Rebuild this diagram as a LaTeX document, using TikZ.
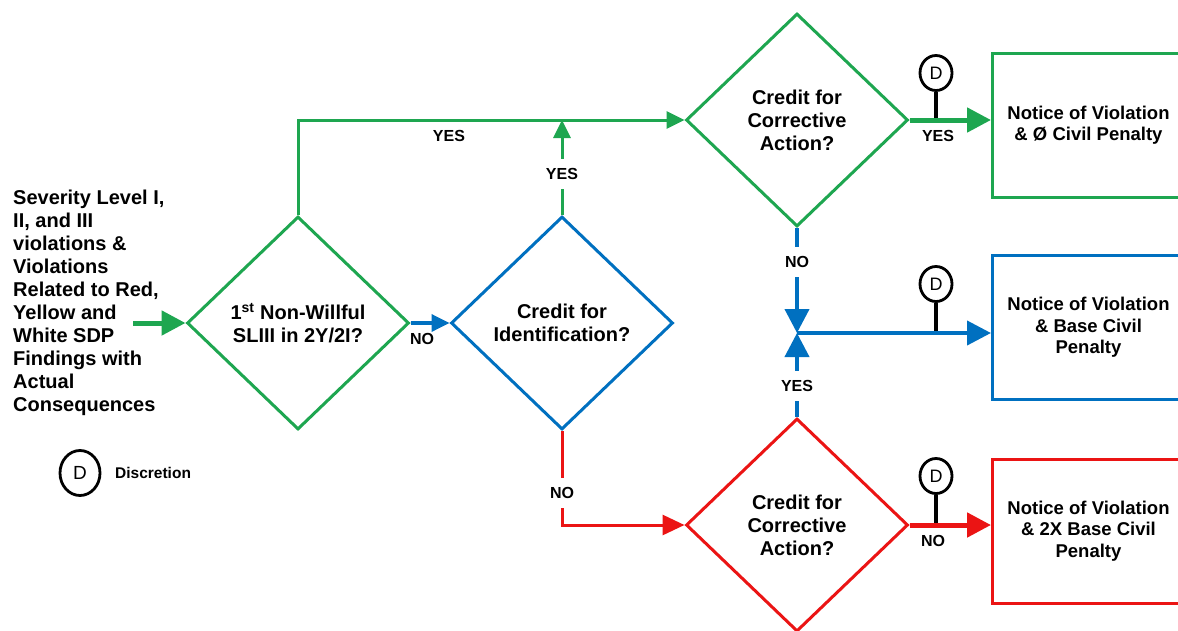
\documentclass[tikz,border=0pt]{standalone}
\usepackage{fontspec}
\setmainfont{Liberation Sans}
\usetikzlibrary{shapes.geometric,arrows.meta}
\definecolor{cgreen}{RGB}{30,166,80}
\definecolor{cblue}{RGB}{0,112,192}
\definecolor{cred}{RGB}{235,20,20}
\begin{document}
\begin{tikzpicture}[x=1pt,y=-1pt,
  dia/.style={diamond, draw, line width=3pt, minimum width=222pt, minimum height=213pt, inner sep=0pt, align=center, font=\fontsize{20}{23}\selectfont\bfseries},
  box/.style={rectangle, draw, line width=3pt, minimum width=192pt, minimum height=144pt, anchor=west, align=center, inner sep=0pt, font=\fontsize{18.5}{21.5}\selectfont\bfseries},
  lab/.style={font=\fontsize{16}{16}\selectfont\bfseries, inner sep=2pt},
  gap/.style={lab, fill=white, inner ysep=9pt},
  dmark/.style={ellipse, draw, line width=2.8pt, minimum width=32pt, minimum height=35pt, inner sep=0pt, font=\fontsize{18}{18}\selectfont},
  stem/.style={line width=3.2pt, black},
  bigtip/.style={-{Triangle[length=24pt,width=24pt]}},
  smalltip/.style={-{Triangle[length=18pt,width=17pt]}}
]
\useasboundingbox (0,0) rectangle (1178,630);
\clip (0,0) rectangle (1178,630);
\fill[white] (0,0) rectangle (1178,630);

% source text
\node[anchor=north west, align=left, inner sep=0pt, font=\fontsize{20}{23}\selectfont\bfseries] (src) at (13,190)
  {Severity Level I,\\ II, and III\\ violations \&\\ Violations\\ Related to Red,\\ Yellow and\\ White SDP\\ Findings with\\ Actual\\ Consequences};
\coordinate (in0) at (133,323);

% diamonds
\node[dia, cgreen, text=black] (d1) at (298,323) {1\textsuperscript{st} Non-Willful\\ SLIII in 2Y/2I?};
\node[dia, cblue, text=black] (d2) at (562,323) {Credit for\\ Identification?};
\node[dia, cgreen, text=black] (d3) at (797,120) {Credit for\\ Corrective\\ Action?};
\node[dia, cred, text=black] (d4) at (797,525) {Credit for\\ Corrective\\ Action?};

% boxes
\node[box, cgreen, text=black] (b1) at (991,125) {Notice of Violation\\ \& Ø Civil Penalty};
\node[box, cblue, text=black] (b2) at (991,327.5) {Notice of Violation\\ \& Base Civil\\ Penalty};
\node[box, cred, text=black] (b3) at (991,531) {Notice of Violation\\ \& 2X Base Civil\\ Penalty};

% D markers
\node[dmark] (m1) at (936,73) {D};
\node[dmark] (m2) at (936,284) {D};
\node[dmark] (m3) at (936,476) {D};
\draw[stem] (m1.south) -- (m1.south |- d3.east);
\draw[stem] (m2.south) -- ++(0,32);
\draw[stem] (m3.south) -- (m3.south |- d4.east);

% connectors
\draw[cgreen, line width=5pt, bigtip] (in0) -- (d1.west);
\draw[cgreen, line width=3pt, smalltip] (d1.north) -- (d1.north |- d3.west) -- (d3.west);
\node[lab] (y1) at (449,136) {YES};
\draw[cblue, line width=3.5pt, smalltip] (d1.east) -- (d2.west);
\node[lab] (n1) at (422,339) {NO};
\draw[cgreen, line width=3pt, smalltip] (d2.north) -- (d2.north |- d3.west);
\node[gap] (y2) at (562,174) {YES};
\draw[cred, line width=3pt, {-Triangle[length=22pt,width=20pt]}] (d2.south) -- (d2.south |- d4.west) -- (d4.west);
\node[gap] (n2) at (562,493) {NO};

\coordinate (jn) at (797,333);
\draw[cblue, line width=4pt, bigtip] (d3.south) -- (jn);
\draw[cblue, line width=4pt, bigtip] (d4.north) -- (jn);
\draw[cblue, line width=4pt, bigtip] (jn) -- (jn -| b2.west);
\node[gap] (n3) at (797,262) {NO};
\node[gap] (y3) at (797,386) {YES};

\draw[cgreen, line width=5pt, bigtip] (d3.east) -- (d3.east -| b1.west);
\node[lab] (y4) at (938,136) {YES};
\draw[cred, line width=5pt, bigtip] (d4.east) -- (d4.east -| b3.west);
\node[lab] (n4) at (933,541) {NO};

% legend
\node[ellipse, draw, line width=2.8pt, minimum width=40pt, minimum height=45pt, inner sep=0pt, font=\fontsize{19}{19}\selectfont] (leg) at (80,473) {D};
\node[anchor=west, inner sep=0pt, font=\fontsize{15.5}{15.5}\selectfont\bfseries] (legt) at (115,473) {Discretion};
\end{tikzpicture}
\end{document}
